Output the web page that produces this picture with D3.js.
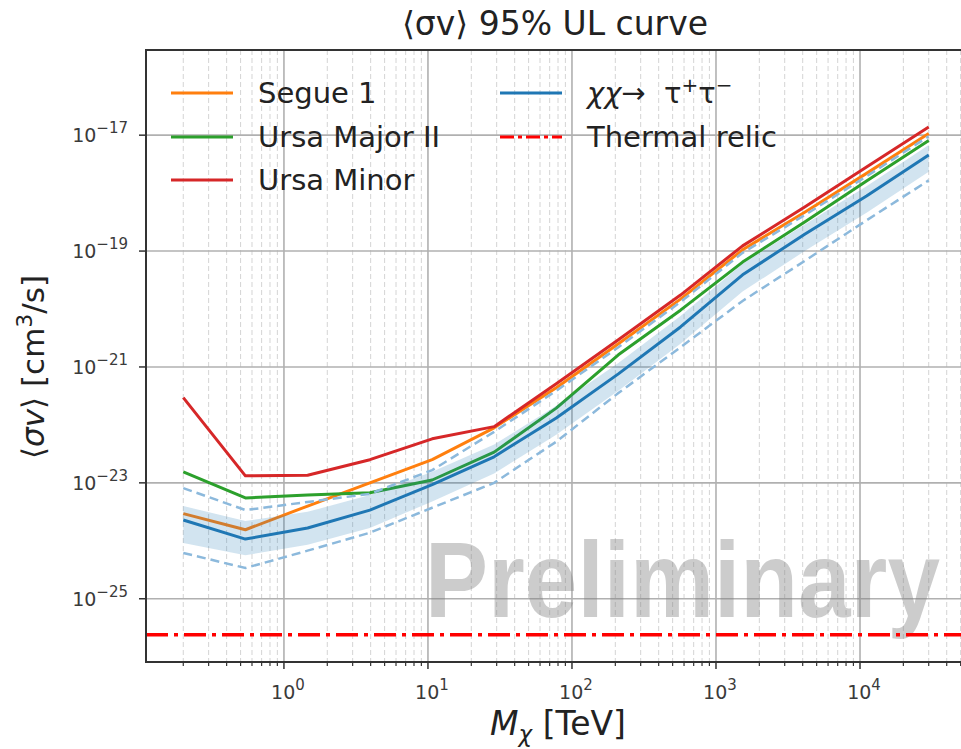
<!DOCTYPE html>
<html>
<head>
<meta charset="utf-8">
<script src="https://cdn.jsdelivr.net/npm/d3@7"></script>
<style>
  body { margin: 0; background: #fff; }
  svg { display: block; font-family: "DejaVu Sans", sans-serif; }
</style>
</head>
<body>
<div id="chart"></div>
<script>
// dark matter mass [TeV]
var masses = [0.2, 0.54, 1.46, 3.95, 10.7, 28.8, 77.8, 210, 567, 1530, 4130, 11100, 30000];

// <sigma v> 95% UL [cm^3/s]
var segue1      = [2.95e-24, 1.55e-24, 3.98e-24, 1.0e-23, 2.51e-23, 8.91e-23, 4.37e-22, 2.51e-21, 1.48e-20, 1.05e-19, 4.68e-19, 2.19e-18, 1.07e-17];
var ursaMajorII = [1.55e-23, 5.5e-24, 6.17e-24, 6.76e-24, 1.12e-23, 3.39e-23, 1.95e-22, 1.62e-21, 9.55e-21, 6.46e-20, 3.16e-19, 1.62e-18, 8.13e-18];
var ursaMinor   = [2.95e-22, 1.32e-23, 1.35e-23, 2.51e-23, 5.75e-23, 9.33e-23, 5.13e-22, 2.95e-21, 1.74e-20, 1.23e-19, 5.75e-19, 2.82e-18, 1.38e-17];
var combined    = [2.29e-24, 1.07e-24, 1.66e-24, 3.39e-24, 9.33e-24, 2.82e-23, 1.32e-22, 7.59e-22, 4.9e-21, 3.89e-20, 1.95e-19, 8.91e-19, 4.57e-18];

// expected limits: 68% band and 95% dashed edges
var band68Hi = [3.98e-24, 2.19e-24, 3.16e-24, 6.17e-24, 1.55e-23, 4.57e-23, 2.14e-22, 1.17e-21, 7.59e-21, 6.03e-20, 2.88e-19, 1.32e-18, 6.76e-18];
var band68Lo = [9.12e-25, 5.62e-25, 8.51e-25, 1.66e-24, 4.79e-24, 1.45e-23, 6.76e-23, 3.89e-22, 2.51e-21, 2.0e-20, 1.0e-19, 4.57e-19, 2.34e-18];
var band95Hi = [8.13e-24, 3.39e-24, 4.68e-24, 6.46e-24, 1.66e-23, 7.59e-23, 3.89e-22, 2.19e-21, 1.32e-20, 9.33e-20, 4.17e-19, 1.95e-18, 9.55e-18];
var band95Lo = [6.17e-25, 3.39e-25, 6.76e-25, 1.38e-24, 3.72e-24, 1.0e-23, 5.13e-23, 3.55e-22, 2.19e-21, 1.38e-20, 6.76e-20, 3.39e-19, 1.66e-18];

var thermalRelic = 2.4e-26;

var xTickExps = [0, 1, 2, 3, 4];
var yTickExps = [-25, -23, -21, -19, -17];

var width = 961, height = 749;
var plotL = 146, plotR = 966, plotT = 50, plotB = 662;

var svg = d3.select('#chart')
  .append('svg')
  .attr('width', width)
  .attr('height', height);

var x = d3.scaleLog()
  .domain([0.1102, 54450])
  .range([plotL, plotR]);

var y = d3.scaleLog()
  .domain([8.1e-27, 2.95e-16])
  .range([plotB, plotT]);

svg.append('clipPath')
  .attr('id', 'plotclip')
  .append('rect')
  .attr('x', plotL)
  .attr('y', plotT)
  .attr('width', plotR - plotL)
  .attr('height', plotB - plotT);

// minor x positions 2..9 x 10^d
var xMinor = [];
for (var d = -1; d <= 4; d++) {
  for (var k = 2; k <= 9; k++) {
    var v = k * Math.pow(10, d);
    if (v > x.domain()[0] && v < x.domain()[1]) xMinor.push(v);
  }
}
var xMajor = xTickExps.map(function(e) { return Math.pow(10, e); });
var yMajor = yTickExps.map(function(e) { return Math.pow(10, e); });

var grid = svg.append('g').attr('clip-path', 'url(#plotclip)');

grid.selectAll('.xminor')
  .data(xMinor)
  .enter()
  .append('line')
  .attr('x1', function(d) { return x(d); })
  .attr('x2', function(d) { return x(d); })
  .attr('y1', plotT)
  .attr('y2', plotB)
  .attr('stroke', '#d4d4d4')
  .attr('stroke-width', 1)
  .attr('stroke-dasharray', '5,3');

grid.selectAll('.xmajor')
  .data(xMajor)
  .enter()
  .append('line')
  .attr('x1', function(d) { return x(d); })
  .attr('x2', function(d) { return x(d); })
  .attr('y1', plotT)
  .attr('y2', plotB)
  .attr('stroke', '#b0b0b0')
  .attr('stroke-width', 1.6);

grid.selectAll('.ymajor')
  .data(yMajor)
  .enter()
  .append('line')
  .attr('x1', plotL)
  .attr('x2', plotR)
  .attr('y1', function(d) { return y(d); })
  .attr('y2', function(d) { return y(d); })
  .attr('stroke', '#b0b0b0')
  .attr('stroke-width', 1.6);

// Preliminary watermark
svg.append('text')
  .attr('x', 425)
  .attr('y', 617)
  .attr('textLength', 515)
  .attr('lengthAdjust', 'spacingAndGlyphs')
  .style('font-family', '"Liberation Sans", Arial, sans-serif')
  .style('font-weight', 'bold')
  .style('font-size', '108px')
  .attr('fill', '#808080')
  .attr('fill-opacity', 0.4)
  .text('Preliminary');

var plot = svg.append('g').attr('clip-path', 'url(#plotclip)');

var line = function(vals) {
  return d3.line()
    .x(function(d, i) { return x(masses[i]); })
    .y(function(d) { return y(d); })(vals);
};

var sources = [
  { name: 'Segue 1', vals: segue1, color: '#ff7f0e' },
  { name: 'Ursa Major II', vals: ursaMajorII, color: '#2ca02c' },
  { name: 'Ursa Minor', vals: ursaMinor, color: '#d62728' }
];

sources.forEach(function(s) {
  plot.append('path')
    .attr('d', line(s.vals))
    .attr('fill', 'none')
    .attr('stroke', s.color)
    .attr('stroke-width', 3)
    .attr('stroke-linejoin', 'round');
});

var area = d3.area()
  .x(function(d, i) { return x(masses[i]); })
  .y0(function(d, i) { return y(band68Lo[i]); })
  .y1(function(d) { return y(d); });

plot.append('path')
  .attr('d', area(band68Hi))
  .attr('fill', '#1f77b4')
  .attr('fill-opacity', 0.2);

plot.append('path')
  .attr('d', line(combined))
  .attr('fill', 'none')
  .attr('stroke', '#1f77b4')
  .attr('stroke-width', 3)
  .attr('stroke-linejoin', 'round');

[band95Hi, band95Lo].forEach(function(vals) {
  plot.append('path')
    .attr('d', line(vals))
    .attr('fill', 'none')
    .attr('stroke', '#8cb9dc')
    .attr('stroke-width', 2.5)
    .attr('stroke-dasharray', '9,5');
});

plot.append('line')
  .attr('x1', plotL)
  .attr('x2', plotR)
  .attr('y1', y(thermalRelic))
  .attr('y2', y(thermalRelic))
  .attr('stroke', '#ff0000')
  .attr('stroke-width', 3.5)
  .attr('stroke-dasharray', '22,6,4,6');

// frame
svg.append('rect')
  .attr('x', plotL)
  .attr('y', plotT)
  .attr('width', plotR - plotL)
  .attr('height', plotB - plotT)
  .attr('fill', 'none')
  .attr('stroke', '#333')
  .attr('stroke-width', 2);

// ticks
var ticks = svg.append('g').attr('stroke', '#333');
ticks.selectAll('.xt')
  .data(xMajor)
  .enter()
  .append('line')
  .attr('x1', function(d) { return x(d); })
  .attr('x2', function(d) { return x(d); })
  .attr('y1', plotB)
  .attr('y2', plotB + 7)
  .attr('stroke-width', 1.5);
ticks.selectAll('.xmt')
  .data(xMinor)
  .enter()
  .append('line')
  .attr('x1', function(d) { return x(d); })
  .attr('x2', function(d) { return x(d); })
  .attr('y1', plotB)
  .attr('y2', plotB + 4)
  .attr('stroke-width', 1.2);
ticks.selectAll('.yt')
  .data(yMajor)
  .enter()
  .append('line')
  .attr('x1', plotL - 7)
  .attr('x2', plotL)
  .attr('y1', function(d) { return y(d); })
  .attr('y2', function(d) { return y(d); })
  .attr('stroke-width', 1.5);

function powerLabel(sel, e) {
  sel.append('tspan').text('10');
  sel.append('tspan')
    .attr('dy', -9)
    .style('font-size', '15px')
    .text(String(e).replace('-', '\u2212'));
}

xTickExps.forEach(function(e) {
  var t = svg.append('text')
    .attr('x', x(Math.pow(10, e)) + 4)
    .attr('y', 699)
    .attr('text-anchor', 'middle')
    .attr('fill', '#3a3a3a')
    .style('font-size', '19px');
  powerLabel(t, e);
});

yTickExps.forEach(function(e) {
  var t = svg.append('text')
    .attr('x', 128)
    .attr('y', y(Math.pow(10, e)) + 7)
    .attr('text-anchor', 'end')
    .attr('fill', '#3a3a3a')
    .style('font-size', '19px');
  powerLabel(t, e);
});

// title
svg.append('text')
  .attr('x', 555)
  .attr('y', 35)
  .attr('text-anchor', 'middle')
  .attr('fill', '#222')
  .style('font-size', '33px')
  .text('\u27e8\u03c3v\u27e9 95% UL curve');

// x label
var xl = svg.append('text')
  .attr('x', 558)
  .attr('y', 735)
  .attr('text-anchor', 'middle')
  .attr('fill', '#222')
  .style('font-size', '33px');
xl.append('tspan').style('font-style', 'italic').text('M');
xl.append('tspan').attr('dy', 7).style('font-size', '23px').style('font-style', 'italic').text('\u03c7');
xl.append('tspan').attr('dy', -7).text(' [TeV]');

// y label
var yl = svg.append('text')
  .attr('transform', 'translate(44,367) rotate(-90)')
  .attr('text-anchor', 'middle')
  .attr('fill', '#222')
  .style('font-size', '31px');
yl.append('tspan').text('\u27e8');
yl.append('tspan').style('font-style', 'italic').text('\u03c3v');
yl.append('tspan').text('\u27e9 [cm');
yl.append('tspan').attr('dy', -12).style('font-size', '22px').text('3');
yl.append('tspan').attr('dy', 12).text('/s]');

// legend
var legendRows = [
  { col: 0, row: 0, color: '#ff7f0e', dash: null, label: 'Segue 1' },
  { col: 0, row: 1, color: '#2ca02c', dash: null, label: 'Ursa Major II' },
  { col: 0, row: 2, color: '#d62728', dash: null, label: 'Ursa Minor' },
  { col: 1, row: 0, color: '#1f77b4', dash: null, label: null },
  { col: 1, row: 1, color: '#ff0000', dash: '14,4,4,4', label: 'Thermal relic' }
];
var colX = [171, 500], rowY = [93, 137, 180];

legendRows.forEach(function(r) {
  var lx = colX[r.col], ly = rowY[r.row];
  svg.append('line')
    .attr('x1', lx)
    .attr('x2', lx + 62)
    .attr('y1', ly)
    .attr('y2', ly)
    .attr('stroke', r.color)
    .attr('stroke-width', 3)
    .attr('stroke-dasharray', r.dash);
  var t = svg.append('text')
    .attr('x', lx + 87)
    .attr('y', ly + 10)
    .attr('fill', '#222')
    .style('font-size', '29px');
  if (r.label) {
    t.text(r.label);
  } else {
    t.append('tspan').style('font-style', 'italic').text('\u03c7\u03c7');
    t.append('tspan').text('\u2192\u00a0\u00a0\u03c4');
    t.append('tspan').attr('dy', -11).style('font-size', '20px').text('+');
    t.append('tspan').attr('dy', 11).text('\u03c4');
    t.append('tspan').attr('dy', -11).style('font-size', '20px').text('\u2212');
  }
});
</script>
</body>
</html>
